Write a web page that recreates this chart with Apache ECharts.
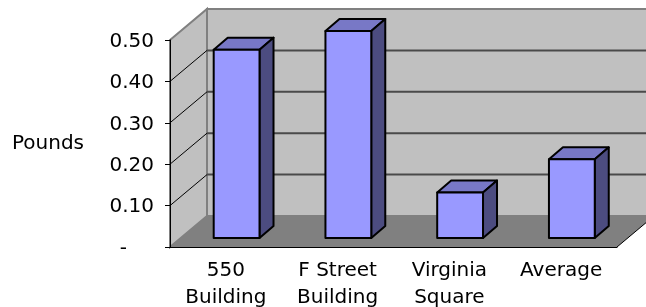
<!DOCTYPE html>
<html lang="en">
<head>
    <meta charset="UTF-8">
    <title>Pounds</title>
    <script src="https://cdn.jsdelivr.net/npm/echarts/dist/echarts.min.js"></script>
    <style>
        html, body { margin: 0; padding: 0; background: #fff; }
        #main { width: 646px; height: 307px; }
    </style>
</head>
<body>
    <div id="main"></div>

    <script>
        // data
        var categories = ['550\nBuilding', 'F Street\nBuilding', 'Virginia\nSquare', 'Average'];
        var pounds = [0.455, 0.50, 0.11, 0.19];
        var tickValues = [0.1, 0.2, 0.3, 0.4, 0.5];

        // 3d look: wall depth and bar depth, in pixels
        var DX = 37, DY = -31;
        var BAR_FRONT = 0.29;
        var BDX = 14, BDY = -12;
        var FONT = 'DejaVu Sans';
        var FS = 20;

        var myChart = echarts.init(document.getElementById('main'));

        function renderWalls(params, api) {
            var cs = params.coordSys;
            var x0 = cs.x, x1 = cs.x + cs.width;
            var yb = cs.y + cs.height, yt = cs.y;
            return {
                type: 'group',
                children: [
                    { type: 'polygon', shape: { points: [[x0, yt], [x0 + DX, yt + DY], [x0 + DX, yb + DY], [x0, yb]] },
                      style: { fill: '#c0c0c0', stroke: '#808080', lineWidth: 2 } },
                    { type: 'rect', shape: { x: x0 + DX, y: yt + DY, width: x1 - x0, height: yb - yt },
                      style: { fill: '#c0c0c0', stroke: '#808080', lineWidth: 2 } },
                    { type: 'polygon', shape: { points: [[x0, yb], [x1, yb], [x1 + DX, yb + DY], [x0 + DX, yb + DY]] },
                      style: { fill: '#808080' } },
                    { type: 'line', shape: { x1: x1, y1: yb, x2: x1 + DX, y2: yb + DY },
                      style: { stroke: '#000', lineWidth: 1 } }
                ]
            };
        }

        function renderGridLine(params, api) {
            var cs = params.coordSys;
            var x0 = cs.x, x1 = cs.x + cs.width;
            var y = api.coord([0, api.value(1)])[1];
            return {
                type: 'group',
                children: [
                    { type: 'line', shape: { x1: x0, y1: y, x2: x0 + DX, y2: y + DY },
                      style: { stroke: '#000', lineWidth: 1 } },
                    { type: 'line', shape: { x1: x0 + DX, y1: y + DY, x2: x1 + DX, y2: y + DY },
                      style: { stroke: '#4a4a4a', lineWidth: 2 } }
                ]
            };
        }

        function renderBar(params, api) {
            var top = api.coord([api.value(0), api.value(1)]);
            var base = api.coord([api.value(0), 0]);
            var hw = api.size([1, 0])[0] * 0.205;
            var ox = DX * BAR_FRONT, oy = DY * BAR_FRONT;
            var xl = top[0] - hw + ox, xr = top[0] + hw + ox;
            var yt = top[1] + oy, yb = base[1] + oy;
            var edge = { stroke: '#000', lineWidth: 2, lineJoin: 'round' };
            return {
                type: 'group',
                children: [
                    { type: 'polygon', shape: { points: [[xl, yt], [xr, yt], [xr + BDX, yt + BDY], [xl + BDX, yt + BDY]] },
                      style: Object.assign({ fill: '#7878c6' }, edge) },
                    { type: 'polygon', shape: { points: [[xr, yt], [xr + BDX, yt + BDY], [xr + BDX, yb + BDY], [xr, yb]] },
                      style: Object.assign({ fill: '#4c4c80' }, edge) },
                    { type: 'rect', shape: { x: xl, y: yt, width: xr - xl, height: yb - yt },
                      style: Object.assign({ fill: '#9999ff' }, edge) }
                ]
            };
        }

        var option = {
            animation: false,
            grid: { left: 170, right: 29, top: 40, bottom: 60, outerBoundsMode: 'none', containLabel: false },
            xAxis: {
                type: 'category',
                data: categories,
                z: 5,
                axisLine: { lineStyle: { color: '#000', width: 1 } },
                axisTick: { length: 5, lineStyle: { color: '#000' } },
                axisLabel: { color: '#000', fontFamily: FONT, fontSize: FS, lineHeight: 27, margin: 10 }
            },
            yAxis: {
                type: 'value',
                min: 0,
                max: 0.5,
                interval: 0.1,
                z: 5,
                name: 'Pounds',
                nameLocation: 'middle',
                nameRotate: 0,
                nameGap: 86,
                nameTextStyle: { color: '#000', fontFamily: FONT, fontSize: FS, padding: [14, 0, 0, 0] },
                axisLine: { show: true, lineStyle: { color: '#000', width: 1 } },
                axisTick: { show: true, length: 5, lineStyle: { color: '#000' } },
                splitLine: { show: false },
                axisLabel: {
                    color: '#000', fontFamily: FONT, fontSize: FS, margin: 16,
                    formatter: function (v) {
                        return v === 0 ? '{d|-}' : '{n|' + v.toFixed(2) + '}';
                    },
                    rich: {
                        n: { color: '#000', fontFamily: FONT, fontSize: FS, padding: [3, 0, 0, 0] },
                        d: { color: '#000', fontFamily: FONT, fontSize: FS, padding: [3, 27, 0, 0] }
                    }
                }
            },
            series: [
                {
                    type: 'custom', name: 'walls', clip: false, silent: true, z: 1,
                    renderItem: renderWalls,
                    data: [[0, 0]]
                },
                {
                    type: 'custom', name: 'gridlines', clip: false, silent: true, z: 2,
                    renderItem: renderGridLine,
                    data: tickValues.filter(function (v) { return v < 0.5; }).map(function (v) { return [0, v]; })
                },
                {
                    type: 'custom', name: 'Pounds', clip: false, z: 3,
                    renderItem: renderBar,
                    data: pounds.map(function (v, i) { return [i, v]; })
                }
            ]
        };

        myChart.setOption(option);
    </script>
</body>
</html>
